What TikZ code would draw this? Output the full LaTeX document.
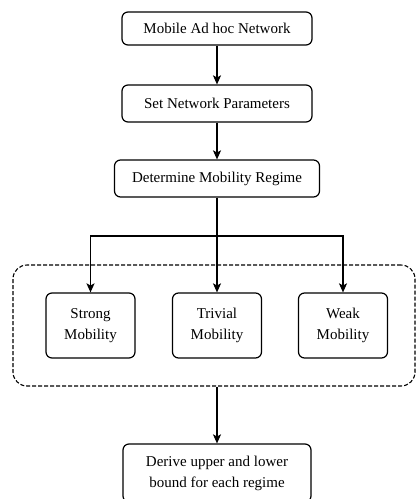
\documentclass[tikz,border=0pt]{standalone}
\usepackage{fontspec}
\setmainfont{Liberation Serif}
\usetikzlibrary{arrows.meta}

\begin{document}
\begin{tikzpicture}[x=1pt,y=-1pt]
  \tikzset{
    box/.style={draw=black, line width=1.2pt, rounded corners=6pt, align=center, inner sep=2pt,
                font=\fontsize{15}{21}\selectfont},
    grp/.style={draw=black, line width=1.1pt, dash pattern=on 4pt off 2pt, rounded corners=14pt,
                minimum width=402pt, minimum height=121pt, inner sep=0pt},
    arr/.style={-{Stealth[length=9pt,width=8pt,inset=2pt]}, line width=1.2pt}
  }
  \useasboundingbox (0,0) rectangle (419,499);

  % — top chain —
  \node[box, minimum width=190pt, minimum height=33pt] (net) at (217,28.5) {Mobile Ad hoc Network};
  \node[box, minimum width=190pt, minimum height=37pt] (param) at (217,103.5) {Set Network Parameters};
  \node[box, minimum width=205pt, minimum height=37pt] (regime) at (217,178.5) {Determine Mobility Regime};

  \draw[arr] (net) -- (param);
  \draw[arr] (param) -- (regime);

  % — mobility regimes —
  \node[grp] (group) at (214,325.5) {};
  \foreach \name/\x/\txt in {strong/90.5/Strong, trivial/217/Trivial, weak/343/Weak} {
    \node[box, minimum width=89pt, minimum height=65pt] (\name) at (\x,325.5) {\txt\\Mobility};
  }

  % branching from the regime box
  \coordinate (split) at (217,236);
  \draw[line width=1.2pt] (regime.south) -- (split);
  \draw[arr] (split) -- (trivial);
  \draw[arr] (split) -| (strong);
  \draw[arr] (split) -| (weak);

  % — bound box —
  \node[box, minimum width=188pt, minimum height=58pt] (bound) at (217,473) {Derive upper and lower\\bound for each regime};
  \draw[arr] (group.south -| bound.north) -- (bound);
\end{tikzpicture}
\end{document}
